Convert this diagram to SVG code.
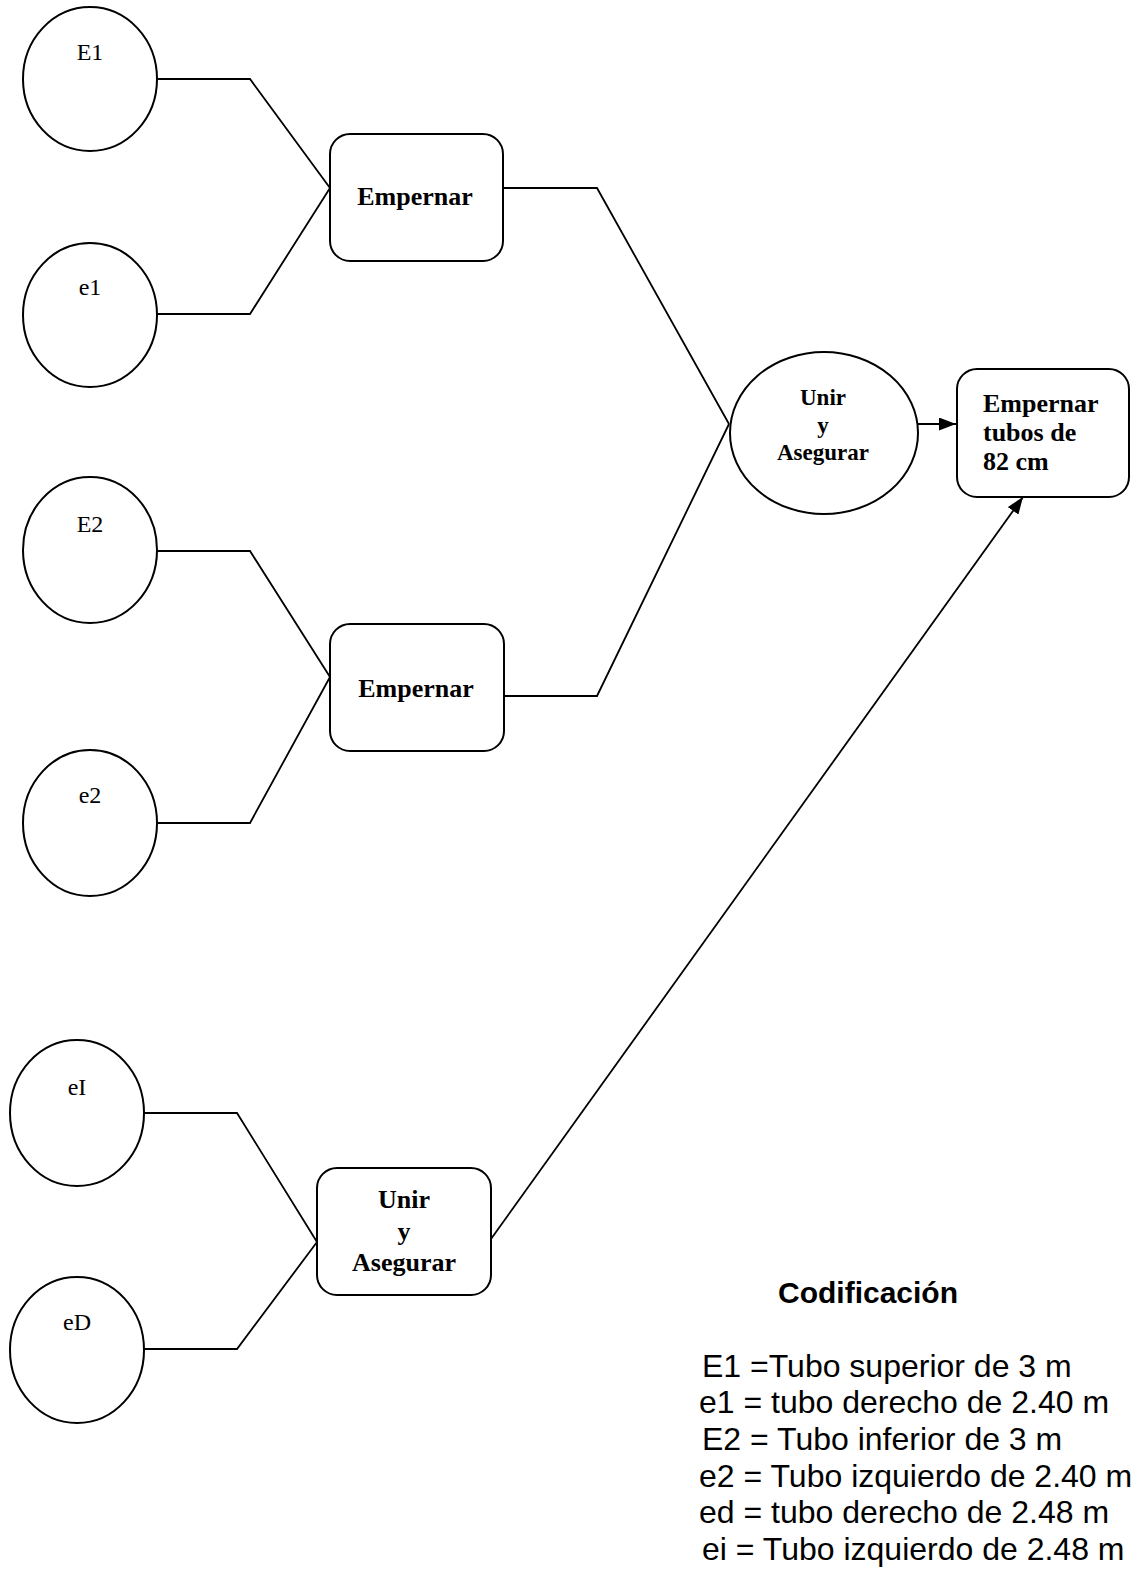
<svg xmlns="http://www.w3.org/2000/svg" width="1131" height="1569" viewBox="0 0 1131 1569">
<defs>
<style>
.shape{fill:#fff;stroke:#000;stroke-width:2}
.conn{fill:none;stroke:#000;stroke-width:1.8}
.lbl{font-family:"Liberation Serif","Times New Roman",serif;font-size:24px;fill:#000;text-anchor:middle}
.bold{font-family:"Liberation Serif","Times New Roman",serif;font-size:26px;font-weight:bold;fill:#000;text-anchor:middle}
.bold23{font-family:"Liberation Serif","Times New Roman",serif;font-size:23px;font-weight:bold;fill:#000;text-anchor:middle}
.start{text-anchor:start}
.legt{font-family:"Liberation Sans",Arial,sans-serif;font-size:30px;font-weight:bold;fill:#000}
.leg{font-family:"Liberation Sans",Arial,sans-serif;font-size:32px;fill:#000}
</style>
<marker id="arr" viewBox="0 0 10 10" refX="10" refY="5" markerWidth="17" markerHeight="13" markerUnits="userSpaceOnUse" orient="auto" preserveAspectRatio="none">
<path d="M0,0 L10,5 L0,10 z" fill="#000"/>
</marker>
</defs>
<rect width="1131" height="1569" fill="#fff"/>

<g id="connectors">
<polyline class="conn" points="157,79 250,79 330,188"/>
<polyline class="conn" points="157,314 250,314 330,188"/>
<polyline class="conn" points="157,551 250,551 330,677"/>
<polyline class="conn" points="157,823 250,823 330,677"/>
<polyline class="conn" points="503,188 597,188 729,424"/>
<polyline class="conn" points="504,696 597,696 729,424"/>
<polyline class="conn" points="144,1113 237,1113 317,1242"/>
<polyline class="conn" points="144,1349 237,1349 317,1242"/>
<line class="conn" x1="918" y1="424" x2="956" y2="424" stroke-width="2.4" marker-end="url(#arr)"/>
<line class="conn" x1="491" y1="1239" x2="1023" y2="497" marker-end="url(#arr)"/>
</g>

<g id="E1"><ellipse class="shape" cx="90" cy="79" rx="67" ry="72"/><text class="lbl" x="90" y="60">E1</text></g>
<g id="e1"><ellipse class="shape" cx="90" cy="315" rx="67" ry="72"/><text class="lbl" x="90" y="295">e1</text></g>
<g id="E2"><ellipse class="shape" cx="90" cy="550" rx="67" ry="73"/><text class="lbl" x="90" y="532">E2</text></g>
<g id="e2"><ellipse class="shape" cx="90" cy="823" rx="67" ry="73"/><text class="lbl" x="90" y="803">e2</text></g>
<g id="eI"><ellipse class="shape" cx="77" cy="1113" rx="67" ry="73"/><text class="lbl" x="77" y="1095">eI</text></g>
<g id="eD"><ellipse class="shape" cx="77" cy="1350" rx="67" ry="73"/><text class="lbl" x="77" y="1330">eD</text></g>

<g id="empernar1"><rect class="shape" x="330" y="134" width="173" height="127" rx="20"/><text class="bold" x="415" y="205">Empernar</text></g>
<g id="empernar2"><rect class="shape" x="330" y="624" width="174" height="127" rx="20"/><text class="bold" x="416" y="697">Empernar</text></g>
<g id="unir1"><ellipse class="shape" cx="824" cy="433" rx="94" ry="81"/>
<text class="bold23" x="823" y="405">Unir</text><text class="bold23" x="823" y="433">y</text><text class="bold23" x="823" y="460">Asegurar</text></g>
<g id="unir2"><rect class="shape" x="317" y="1168" width="174" height="127" rx="20"/>
<text class="bold" x="404" y="1208">Unir</text><text class="bold" x="404" y="1240">y</text><text class="bold" x="404" y="1271">Asegurar</text></g>
<g id="final"><rect class="shape" x="957" y="369" width="172" height="128" rx="20"/>
<text class="bold start" x="983" y="412">Empernar</text>
<text class="bold start" x="983" y="441">tubos de</text>
<text class="bold start" x="983" y="470">82 cm</text></g>

<g id="legend">
<text class="legt" x="778" y="1303">Codificación</text>
<text class="leg" x="702" y="1377">E1 =Tubo superior de 3 m</text>
<text class="leg" x="699" y="1413">e1 = tubo derecho de 2.40 m</text>
<text class="leg" x="702" y="1450">E2 = Tubo inferior de 3 m</text>
<text class="leg" x="699" y="1487">e2 = Tubo izquierdo de 2.40 m</text>
<text class="leg" x="699" y="1523">ed = tubo derecho de 2.48 m</text>
<text class="leg" x="702" y="1560">ei = Tubo izquierdo de 2.48 m</text>
</g>
</svg>
